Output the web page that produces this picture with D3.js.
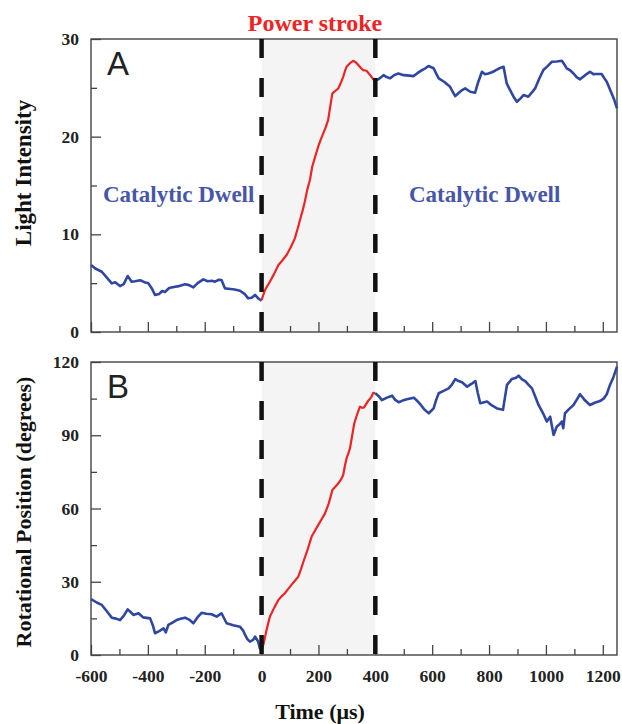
<!DOCTYPE html>
<html>
<head>
<meta charset="utf-8">
<script src="https://cdn.jsdelivr.net/npm/d3@7"></script>
<style>
  html, body { margin: 0; padding: 0; background: #fff; }
  svg { display: block; }
</style>
</head>
<body>
<svg id="chart" width="622" height="724"></svg>
<script>
// ---------- DATA ----------
// Panel A: light intensity (time in µs, value)
const intensityDwellBefore = [
  [-600,6.86],[-585,6.5],[-562,6.17],[-545,5.6],[-527,4.98],[-515,5.1],[-498,4.7],[-485,4.9],[-471,5.73],[-463,5.4],
  [-457,5.15],[-445,5.2],[-427,5.3],[-412,5.1],[-398,4.98],[-385,4.4],[-375,3.79],[-360,3.9],[-350,4.2],[-340,4.1],
  [-325,4.5],[-304,4.64],[-290,4.7],[-269,4.88],[-255,4.8],[-240,4.57],[-225,5.0],[-205,5.39],[-190,5.2],[-175,5.25],
  [-164,5.15],[-150,5.35],[-141,5.32],[-129,4.47],[-110,4.4],[-95,4.35],[-76,4.23],[-60,3.9],[-47,3.45],[-35,3.5],
  [-23,3.79],[-10,3.4],[0,3.2]
];
const intensityStroke = [
  [0,3.27],[12,4.3],[29,5.15],[45,6.0],[59,6.86],[72,7.3],[88,7.88],[103,8.7],[117,9.59],[127,10.6],
  [135,11.46],[144,12.4],[152,13.34],[160,14.5],[170,15.56],[178,16.92],[188,17.9],[199,18.97],[208,19.7],[217,20.34],
  [226,21.0],[234,21.7],[242,23.2],[249,24.43],[260,24.7],[270,24.94],[280,25.6],[287,26.13],[293,26.7],[299,27.16],
  [310,27.5],[322,27.77],[332,27.6],[340,27.33],[350,27.0],[357,26.82],[369,26.75],[382,26.3],[393,25.87],[400,25.74]
];
const intensityDwellAfter = [
  [400,25.74],[412,25.9],[429,26.3],[440,26.1],[452,25.97],[466,26.3],[481,26.47],[500,26.3],[520,26.25],[534,26.2],
  [548,26.5],[564,26.82],[576,27.0],[587,27.23],[605,27.0],[615,26.4],[623,25.97],[643,25.6],[663,25.1],[672,24.6],
  [681,24.15],[690,24.4],[698,24.6],[707,24.8],[716,24.94],[734,24.6],[751,24.5],[762,25.6],[775,26.65],[786,26.4],
  [798,26.47],[810,26.6],[821,26.75],[836,27.0],[851,27.16],[862,25.46],[870,25.0],[880,24.43],[890,23.9],[898,23.57],
  [910,23.9],[921,24.26],[938,24.09],[950,24.5],[962,24.94],[976,25.9],[991,26.82],[1005,27.2],[1021,27.67],[1038,27.7],
  [1056,27.77],[1065,27.4],[1073,27.0],[1085,26.8],[1097,26.47],[1108,26.1],[1120,25.87],[1138,26.3],[1155,26.65],[1167,26.4],
  [1179,26.41],[1196,26.41],[1205,26.0],[1214,25.63],[1230,24.5],[1240,23.8],[1250,22.9]
];

// Panel B: rotational position in degrees (time in µs, value)
const rotationDwellBefore = [
  [-600,22.9],[-580,21.5],[-562,20.5],[-545,18.0],[-527,15.3],[-512,14.9],[-498,14.3],[-485,16.0],[-471,18.7],[-460,17.5],
  [-451,16.4],[-433,17.1],[-416,15.4],[-392,15.0],[-382,12.0],[-375,8.9],[-360,9.8],[-345,10.9],[-337,9.3],[-328,12.3],
  [-315,13.2],[-299,14.3],[-285,14.8],[-269,15.3],[-255,14.5],[-240,13.0],[-225,15.5],[-211,17.3],[-195,16.9],[-176,16.7],
  [-158,15.7],[-141,17.1],[-123,13.0],[-100,12.2],[-76,11.6],[-65,10.0],[-58,8.2],[-50,6.5],[-41,5.5],[-30,6.2],
  [-23,7.5],[-12,5.5],[-6,2.7],[0,2.0]
];
const rotationStroke = [
  [0,2.0],[6,4.1],[18,10.5],[29,15.7],[45,19.5],[59,22.5],[70,24.0],[82,25.3],[93,27.0],[105,28.7],
  [118,30.5],[129,32.1],[138,35.0],[147,38.2],[160,42.5],[176,48.5],[188,51.0],[199,53.2],[211,55.6],[223,58.0],
  [236,62.0],[249,67.6],[260,69.0],[270,70.3],[280,72.0],[287,73.7],[293,77.5],[299,80.6],[305,82.5],[311,84.7],
  [318,89.5],[326,94.9],[336,98.5],[346,101.7],[354,101.2],[361,101.5],[373,103.8],[385,105.5],[393,107.4],[400,107.2]
];
const rotationDwellAfter = [
  [400,107.2],[412,106.0],[423,104.4],[441,105.4],[459,106.2],[470,104.5],[482,103.5],[496,104.2],[511,104.7],[535,105.4],
  [548,104.0],[558,102.7],[573,100.5],[588,99.0],[605,101.0],[614,104.5],[623,107.2],[640,108.2],[658,109.2],[670,110.8],
  [681,113.0],[693,112.2],[705,111.7],[714,110.8],[723,109.9],[738,111.0],[752,112.2],[760,107.5],[769,103.1],[793,103.8],
  [810,102.2],[828,101.0],[849,100.4],[856,105.5],[863,110.6],[880,113.0],[893,113.4],[904,114.4],[915,113.0],[927,112.2],
  [940,110.5],[951,109.2],[962,106.0],[974,102.4],[990,99.0],[1003,95.6],[1015,97.6],[1027,90.1],[1038,93.5],[1048,94.5],
  [1056,95.6],[1061,92.9],[1067,99.0],[1082,100.8],[1097,102.4],[1108,104.5],[1120,106.8],[1138,104.2],[1155,102.4],[1172,103.3],
  [1190,104.0],[1203,105.0],[1214,106.8],[1225,110.5],[1238,114.0],[1250,118.1]
];

const xMajorTicks = [-600,-400,-200,0,200,400,600,800,1000,1200];
const xMinorTicks = [-500,-300,-100,100,300,500,700,900,1100];
const yATicks = [0,10,20,30];
const yAMinor = [5,15,25];
const yBTicks = [0,30,60,90,120];
const yBMinor = [15,45,75,105];
const strokeStart = 0, strokeEnd = 400;

// ---------- LAYOUT ----------
const svg = d3.select("#chart");
const left = 91, right = 617;
const x = d3.scaleLinear().domain([-600,1250]).range([left,right]);
const panels = [
  { top: 39, bottom: 332, y: d3.scaleLinear().domain([0,30]).range([332,39]), major: yATicks, minor: yAMinor,
    series: [intensityDwellBefore, intensityStroke, intensityDwellAfter], letter: "A", labels: false },
  { top: 362, bottom: 655, y: d3.scaleLinear().domain([0,120]).range([655,362]), major: yBTicks, minor: yBMinor,
    series: [rotationDwellBefore, rotationStroke, rotationDwellAfter], letter: "B", labels: true }
];

const blue = "#2f47a3", red = "#ee2424", frame = "#444";
const serif = "'Liberation Serif','Times New Roman',serif";
const fmt = d => String(d);

panels.forEach(p => {
  const g = svg.append("g");
  // shading
  g.append("rect")
    .attr("x", x(strokeStart)).attr("y", p.top)
    .attr("width", x(strokeEnd) - x(strokeStart)).attr("height", p.bottom - p.top)
    .attr("fill", "#f4f4f4");

  // axes (ticks inward)
  const xAxisMaj = d3.axisBottom(x).tickValues(xMajorTicks).tickSize(-10).tickSizeOuter(0)
    .tickFormat(p.labels ? fmt : () => "");
  const xAxisMin = d3.axisBottom(x).tickValues(xMinorTicks).tickSize(-6).tickSizeOuter(0).tickFormat(() => "");
  const yAxisMaj = d3.axisLeft(p.y).tickValues(p.major).tickSize(-10).tickSizeOuter(0).tickFormat(fmt);
  const yAxisMin = d3.axisLeft(p.y).tickValues(p.minor).tickSize(-6).tickSizeOuter(0).tickFormat(() => "");

  const gx = g.append("g").attr("transform", `translate(0,${p.bottom})`).call(xAxisMaj);
  g.append("g").attr("transform", `translate(0,${p.bottom})`).call(xAxisMin);
  const gy = g.append("g").attr("transform", `translate(${left},0)`).call(yAxisMaj);
  g.append("g").attr("transform", `translate(${left},0)`).call(yAxisMin);

  g.selectAll(".domain").remove();
  g.selectAll(".tick line").attr("stroke", frame).attr("stroke-width", 1.3);
  gx.selectAll(".tick text").attr("font-family", serif).attr("font-weight", "bold")
    .attr("font-size", 17.5).attr("fill", "#222").attr("dy", "1.05em").attr("y", 9);
  gy.selectAll(".tick text").attr("font-family", serif).attr("font-weight", "bold")
    .attr("font-size", 17.5).attr("fill", "#222").attr("x", -12);

  // frame
  g.append("rect").attr("x", left).attr("y", p.top).attr("width", right - left).attr("height", p.bottom - p.top)
    .attr("fill", "none").attr("stroke", frame).attr("stroke-width", 1.4);

  // lines
  const line = d3.line().x(d => x(d[0])).y(d => p.y(d[1]));
  p.series.forEach((s, i) => {
    g.append("path").datum(s).attr("d", line).attr("fill", "none")
      .attr("stroke", i === 1 ? red : blue).attr("stroke-width", i === 1 ? 2.2 : 2.6)
      .attr("stroke-linejoin", "round");
  });

  // dashed boundaries
  [strokeStart, strokeEnd].forEach(t => {
    g.append("line").attr("x1", x(t)).attr("x2", x(t)).attr("y1", p.top).attr("y2", p.bottom + 2)
      .attr("stroke", "#111").attr("stroke-width", 4.5).attr("stroke-dasharray", "19,20");
  });

  // panel letter
  g.append("text").attr("x", left + 16).attr("y", p.top + 36)
    .attr("font-family", "'Liberation Sans',Arial,sans-serif").attr("font-size", 33).attr("fill", "#222")
    .text(p.letter);
});

// annotations
svg.append("text").attr("x", 315).attr("y", 31).attr("text-anchor", "middle")
  .attr("font-family", serif).attr("font-weight", "bold").attr("font-size", 24).attr("fill", red)
  .text("Power stroke");
[103, 409].forEach(px => {
  svg.append("text").attr("x", px).attr("y", 202)
    .attr("font-family", serif).attr("font-weight", "bold").attr("font-size", 23).attr("fill", "#4656a8")
    .text("Catalytic Dwell");
});

// axis titles
svg.append("text").attr("transform", "translate(31,173) rotate(-90)").attr("text-anchor", "middle")
  .attr("font-family", serif).attr("font-weight", "bold").attr("font-size", 23).attr("fill", "#111")
  .text("Light Intensity");
svg.append("text").attr("transform", "translate(31,512) rotate(-90)").attr("text-anchor", "middle")
  .attr("font-family", serif).attr("font-weight", "bold").attr("font-size", 22).attr("fill", "#111")
  .text("Rotational Position (degrees)");
svg.append("text").attr("x", 320).attr("y", 719).attr("text-anchor", "middle")
  .attr("font-family", serif).attr("font-weight", "bold").attr("font-size", 22).attr("fill", "#111")
  .text("Time (μs)");
</script>
</body>
</html>
